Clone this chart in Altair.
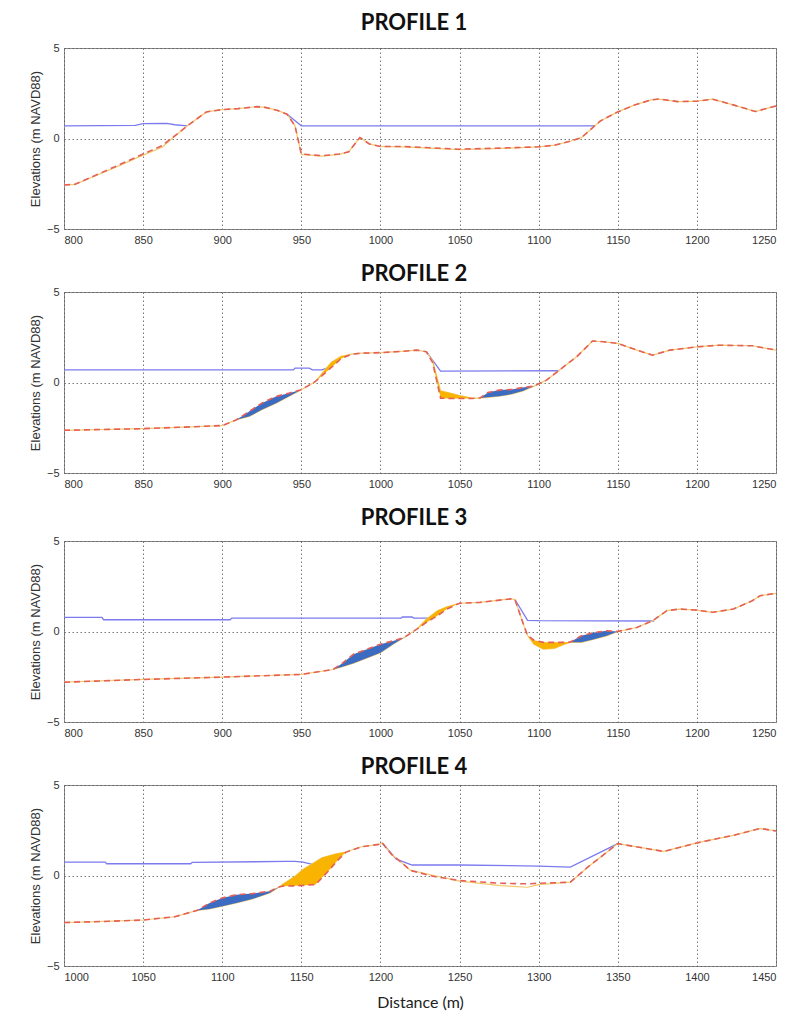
import altair as alt
import pandas as pd

# ---------------- PROFILE 1 ----------------
P1_DIST = [800, 807, 820, 835, 850, 862, 870, 878, 890, 900, 910, 922, 927, 935, 941, 946,
           950, 963, 974, 980, 987, 993, 1000, 1014, 1050, 1077, 1100, 1110, 1120, 1127, 1139,
           1150, 1160, 1171, 1176, 1188, 1200, 1210, 1224, 1237, 1250]
P1_RED = [-2.57, -2.53, -2.03, -1.45, -0.86, -0.40, 0.15, 0.70, 1.47, 1.60, 1.65, 1.76, 1.72,
          1.55, 1.34, 0.70, -0.86, -0.95, -0.86, -0.73, 0.05, -0.30, -0.44, -0.44, -0.59, -0.53,
          -0.46, -0.37, -0.15, 0.05, 0.97, 1.47, 1.83, 2.13, 2.18, 2.04, 2.06, 2.17, 1.83, 1.49, 1.80]
P1_ORANGE = [-2.57, -2.53, -2.06, -1.50, -0.92, -0.48, 0.12, 0.70, 1.47, 1.60, 1.65, 1.76, 1.72,
             1.55, 1.34, 0.70, -0.88, -0.97, -0.88, -0.73, 0.05, -0.30, -0.44, -0.46, -0.62, -0.55,
             -0.46, -0.37, -0.15, 0.05, 0.97, 1.47, 1.83, 2.13, 2.18, 2.04, 2.06, 2.17, 1.83, 1.49, 1.80]
P1_WATER_X = [800, 845, 850, 865, 870, 878, 941, 950, 1135]
P1_WATER_Y = [0.70, 0.73, 0.82, 0.84, 0.76, 0.70, 1.34, 0.70, 0.70]
P1_WATER_SEG = [0, 0, 0, 0, 0, 0, 1, 1, 1]
P1_FILLS = []

# ---------------- PROFILE 2 ----------------
P2_DIST = [800, 850, 880, 900, 909, 917, 925, 934, 942, 950, 959, 964, 969, 975, 982, 988, 1000,
           1015, 1023, 1029, 1033, 1038, 1044, 1050, 1058, 1063, 1068, 1075, 1083, 1090, 1097, 1105,
           1113, 1124, 1134, 1141, 1150, 1162, 1172, 1183, 1200, 1214, 1235, 1250]
P2_RED = [-2.64, -2.55, -2.45, -2.38, -2.06, -1.60, -1.14, -0.77, -0.59, -0.40, 0.06, 0.45, 0.83,
          1.31, 1.57, 1.62, 1.65, 1.73, 1.79, 1.70, 1.10, -0.87, -0.88, -0.88, -0.88, -0.85, -0.55,
          -0.42, -0.38, -0.28, -0.20, 0.13, 0.68, 1.42, 2.29, 2.25, 2.16, 1.79, 1.51, 1.79, 1.97,
          2.06, 2.03, 1.79]
P2_ORANGE = [-2.64, -2.55, -2.45, -2.38, -2.06, -1.88, -1.51, -1.14, -0.77, -0.40, 0.06, 0.60, 1.12,
             1.44, 1.57, 1.62, 1.65, 1.73, 1.79, 1.70, 1.20, -0.46, -0.58, -0.72, -0.86, -0.85, -0.82,
             -0.76, -0.64, -0.47, -0.20, 0.13, 0.68, 1.42, 2.29, 2.25, 2.16, 1.79, 1.51, 1.79, 1.97,
             2.06, 2.03, 1.79]
P2_WATER_X = [800, 945, 946, 955, 957, 963, 968, 1029, 1038, 1113]
P2_WATER_Y = [0.70, 0.70, 0.79, 0.79, 0.70, 0.70, 0.85, 1.70, 0.63, 0.65]
P2_WATER_SEG = [0, 0, 0, 0, 0, 0, 0, 1, 1, 1]
P2_FILLS = [(909, 950, "erosion"), (959, 982, "accretion"),
            (1033, 1063, "accretion"), (1063, 1097, "erosion")]

# ---------------- PROFILE 3 ----------------
P3_DIST = [800, 850, 900, 950, 970, 976, 983, 1000, 1008, 1015, 1023, 1029, 1036, 1042, 1050, 1063,
           1082, 1085, 1091, 1093, 1097, 1103, 1110, 1116, 1120, 1127, 1135, 1143, 1150, 1162, 1172,
           1181, 1189, 1200, 1210, 1223, 1235, 1240, 1250]
P3_RED = [-2.80, -2.65, -2.52, -2.37, -2.10, -1.75, -1.25, -0.70, -0.52, -0.33, 0.13, 0.50, 0.87,
          1.24, 1.56, 1.61, 1.80, 1.77, 0.24, -0.22, -0.48, -0.60, -0.60, -0.60, -0.58, -0.24, -0.06,
          0.04, 0.00, 0.22, 0.59, 1.15, 1.24, 1.18, 1.06, 1.24, 1.70, 1.98, 2.11]
P3_ORANGE = [-2.80, -2.65, -2.52, -2.37, -2.10, -1.95, -1.75, -1.17, -0.70, -0.33, 0.13, 0.68, 1.15,
             1.37, 1.56, 1.61, 1.80, 1.77, 0.24, -0.22, -0.70, -0.98, -0.93, -0.72, -0.60, -0.60, -0.43,
             -0.24, 0.00, 0.22, 0.59, 1.15, 1.24, 1.18, 1.06, 1.24, 1.70, 1.98, 2.11]
P3_WATER_X = [800, 824, 825, 905, 906, 1013, 1014, 1020, 1021, 1030, 1085, 1093, 1100, 1173]
P3_WATER_Y = [0.78, 0.78, 0.65, 0.65, 0.74, 0.74, 0.80, 0.80, 0.74, 0.74, 1.77, 0.62, 0.60, 0.58]
P3_WATER_SEG = [0, 0, 0, 0, 0, 0, 0, 0, 0, 0, 1, 1, 1, 1]
P3_FILLS = [(970, 1015, "erosion"), (1023, 1050, "accretion"),
            (1091, 1120, "accretion"), (1120, 1150, "erosion")]

# ---------------- PROFILE 4 ----------------
P4_DIST = [1000, 1025, 1050, 1070, 1084, 1092, 1100, 1109, 1119, 1130, 1136, 1138, 1146, 1151, 1159,
           1163, 1168, 1172, 1178, 1188, 1199, 1201, 1207, 1213, 1219, 1234, 1250, 1276, 1293, 1300,
           1320, 1331, 1350, 1379, 1400, 1423, 1440, 1450]
P4_RED = [-2.60, -2.54, -2.46, -2.28, -1.93, -1.52, -1.24, -1.06, -1.00, -0.87, -0.63, -0.59, -0.57,
          -0.55, -0.50, -0.13, 0.33, 0.75, 1.28, 1.59, 1.72, 1.81, 1.17, 0.74, 0.28, -0.06, -0.28,
          -0.43, -0.46, -0.43, -0.37, 0.46, 1.76, 1.33, 1.80, 2.22, 2.60, 2.46]
P4_ORANGE = [-2.60, -2.54, -2.46, -2.28, -1.93, -1.85, -1.70, -1.52, -1.30, -0.96, -0.63, -0.50, -0.04,
             0.33, 0.76, 0.98, 1.10, 1.20, 1.30, 1.59, 1.72, 1.81, 1.17, 0.74, 0.28, 0.00, -0.31,
             -0.56, -0.65, -0.50, -0.37, 0.46, 1.76, 1.33, 1.80, 2.22, 2.60, 2.46]
P4_WATER_X = [1000, 1026, 1027, 1080, 1081, 1140, 1146, 1151, 1157, 1201, 1210, 1220, 1250, 1300, 1320, 1350]
P4_WATER_Y = [0.74, 0.74, 0.65, 0.65, 0.72, 0.78, 0.78, 0.74, 0.62, 1.81, 0.90, 0.58, 0.58, 0.52, 0.46, 1.76]
P4_WATER_SEG = [0, 0, 0, 0, 0, 0, 0, 0, 0, 1, 1, 1, 1, 1, 1, 1]
P4_FILLS = [(1084, 1136, "erosion"), (1136, 1178, "accretion")]

X_TICKS_A = [800, 850, 900, 950, 1000, 1050, 1100, 1150, 1200, 1250]
X_TICKS_B = [1000, 1050, 1100, 1150, 1200, 1250, 1300, 1350, 1400, 1450]
Y_TICKS = [-5, 0, 5]

WATER_COLOR = "#7b7bef"
RED_COLOR = "#e4605a"
ORANGE_COLOR = "#f5c96a"
FILL_DOMAIN = ["erosion", "accretion"]
FILL_RANGE = ["#3b6cc2", "#f8b400"]


def panel(n, xdom, xticks, dist, red, orange, wx, wy, wseg, fills, toff, last=False):
    prof = pd.DataFrame({"dist": dist, "red": red, "orange": orange})
    water = pd.DataFrame({"dist": wx, "elev": wy, "seg": wseg})
    rows = []
    for i, (a, b, kind) in enumerate(fills):
        for d, r, o in zip(dist, red, orange):
            if a <= d <= b:
                rows.append({"dist": d, "top": r, "bottom": o, "region": i, "kind": kind})
    fill = pd.DataFrame(rows, columns=["dist", "top", "bottom", "region", "kind"])

    xaxis = alt.Axis(values=xticks, grid=True, format="d", title="Distance (m)" if last else None,
                     titleFont="Lato", titleFontSize=16, titleFontWeight="normal",
                     titleColor="#222", titlePadding=12)
    X = alt.X("dist:Q", scale=alt.Scale(domain=xdom, nice=False, zero=False), axis=xaxis)
    yaxis = alt.Axis(values=Y_TICKS, grid=True, format="d", title="Elevations (m NAVD88)", titlePadding=4)
    ysc = alt.Scale(domain=[-5, 5], nice=False, zero=False)

    water_l = alt.Chart(water).mark_line(color=WATER_COLOR, strokeWidth=1.3).encode(
        x=X, y=alt.Y("elev:Q", scale=ysc, axis=yaxis), detail="seg:N")
    orange_l = alt.Chart(prof).mark_line(color=ORANGE_COLOR, strokeWidth=1.2).encode(
        x=X, y=alt.Y("orange:Q", scale=ysc, axis=yaxis))
    red_l = alt.Chart(prof).mark_line(color=RED_COLOR, strokeWidth=1.6, strokeDash=[6, 4]).encode(
        x=X, y=alt.Y("red:Q", scale=ysc, axis=yaxis))
    layers = [water_l, orange_l]
    if len(fill):
        fill_a = alt.Chart(fill).mark_area(orient="vertical", opacity=1).encode(
            x=X, y=alt.Y("top:Q", scale=ysc, axis=yaxis), y2="bottom:Q",
            color=alt.Color("kind:N", scale=alt.Scale(domain=FILL_DOMAIN, range=FILL_RANGE), legend=None),
            detail="region:N")
        layers.append(fill_a)
    layers.append(red_l)
    return alt.layer(*layers).properties(
        width=712, height=181,
        title=alt.TitleParams(text=f"PROFILE {n}", font="Lato", fontSize=22, fontWeight="bold",
                              color="#111", anchor="middle", offset=toff, dx=-6))


p1 = panel(1, [800, 1250], X_TICKS_A, P1_DIST, P1_RED, P1_ORANGE, P1_WATER_X, P1_WATER_Y, P1_WATER_SEG, P1_FILLS, 7)
p2 = panel(2, [800, 1250], X_TICKS_A, P2_DIST, P2_RED, P2_ORANGE, P2_WATER_X, P2_WATER_Y, P2_WATER_SEG, P2_FILLS, 0)
p3 = panel(3, [800, 1250], X_TICKS_A, P3_DIST, P3_RED, P3_ORANGE, P3_WATER_X, P3_WATER_Y, P3_WATER_SEG, P3_FILLS, 5)
p4 = panel(4, [1000, 1450], X_TICKS_B, P4_DIST, P4_RED, P4_ORANGE, P4_WATER_X, P4_WATER_Y, P4_WATER_SEG, P4_FILLS, 0, last=True)

chart = alt.vconcat(p1, p2, p3, p4, spacing=16).properties(
    padding={"left": 20, "top": 3, "right": 2, "bottom": 0},
    background="white"
).configure_view(
    stroke="#8a8a8a", strokeWidth=1
).configure_axis(
    labelFont="Liberation Sans", labelFontSize=11, labelColor="#333",
    titleFont="Liberation Sans", titleFontSize=13, titleFontWeight="normal", titleColor="#333",
    gridColor="#555", gridDash=[1.5, 2.5], gridWidth=0.8, gridOpacity=1,
    ticks=False, domain=False, labelPadding=5
)

chart.save("out.html", embed_options={"renderer": "svg", "actions": False})
